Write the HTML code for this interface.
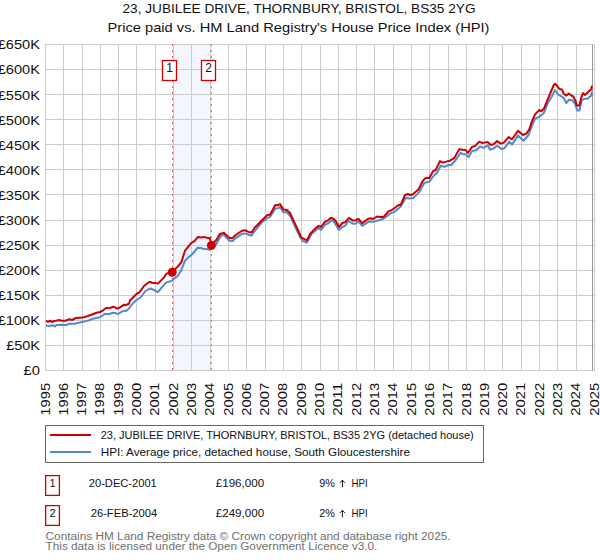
<!DOCTYPE html>
<html><head><meta charset="utf-8"><style>
html,body{margin:0;padding:0;background:#fff;width:600px;height:560px;overflow:hidden}
svg{position:absolute;left:0;top:0;font-family:"Liberation Sans",sans-serif}
</style></head><body>
<svg width="600" height="560" viewBox="0 0 600 560">
<rect x="0" y="0" width="600" height="560" fill="#fff"/>
<text x="122.5" y="13" font-size="13" fill="#111" textLength="353" lengthAdjust="spacingAndGlyphs">23, JUBILEE DRIVE, THORNBURY, BRISTOL, BS35 2YG</text>
<text x="107.5" y="31.7" font-size="13" fill="#111" textLength="382" lengthAdjust="spacingAndGlyphs">Price paid vs. HM Land Registry's House Price Index (HPI)</text>
<rect x="173" y="44.5" width="38" height="326" fill="#f3f7fd"/>
<path d="M45.5,44 V371 M63.5,44 V371 M82.5,44 V371 M100.5,44 V371 M118.5,44 V371 M136.5,44 V371 M155.5,44 V371 M173.5,44 V371 M191.5,44 V371 M210.5,44 V371 M228.5,44 V371 M246.5,44 V371 M265.5,44 V371 M283.5,44 V371 M301.5,44 V371 M320.5,44 V371 M338.5,44 V371 M356.5,44 V371 M374.5,44 V371 M393.5,44 V371 M411.5,44 V371 M429.5,44 V371 M448.5,44 V371 M466.5,44 V371 M484.5,44 V371 M502.5,44 V371 M521.5,44 V371 M539.5,44 V371 M557.5,44 V371 M576.5,44 V371 M594.5,44 V371 M45,44.5 H595 M45,69.5 H595 M45,94.5 H595 M45,119.5 H595 M45,144.5 H595 M45,169.5 H595 M45,194.5 H595 M45,220.5 H595 M45,245.5 H595 M45,270.5 H595 M45,295.5 H595 M45,320.5 H595 M45,345.5 H595 M45,370.5 H595" stroke="#cccccc" stroke-width="1" fill="none"/>
<line x1="592.5" y1="45" x2="592.5" y2="370" stroke="#999" stroke-width="1"/>
<line x1="172.5" y1="44" x2="172.5" y2="370" stroke="#ee5566" stroke-width="1" stroke-dasharray="2,4"/>
<line x1="211.3" y1="44" x2="211.3" y2="370" stroke="#ee5566" stroke-width="1" stroke-dasharray="2,4"/>
<path d="M46.0,325.6 L49.3,326.0 L53.3,325.3 L54.7,326.4 L56.7,324.9 L61.3,324.7 L66.7,324.9 L69.3,323.7 L74.7,323.7 L80.0,322.4 L84.0,321.6 L89.3,320.3 L94.0,318.4 L98.7,317.6 L101.3,316.3 L104.7,314.0 L109.3,314.0 L112.7,312.7 L115.3,313.1 L118.0,314.0 L120.7,312.4 L124.0,310.5 L126.0,311.0 L129.0,308.5 L133.0,303.0 L137.0,299.8 L141.0,297.0 L145.0,291.5 L149.0,289.0 L150.5,288.5 L155.0,290.5 L157.9,292.1 L165.7,282.9 L168.6,281.7 L171.4,281.1 L174.3,278.6 L177.9,275.7 L181.4,270.0 L185.0,260.7 L188.6,257.1 L192.9,253.6 L197.6,247.7 L200.8,248.0 L203.0,248.7 L206.7,249.0 L209.4,249.8 L216.4,243.9 L220.6,236.2 L223.9,234.8 L229.3,240.7 L232.7,241.0 L235.3,238.3 L242.0,233.9 L245.3,233.4 L248.7,234.7 L251.3,235.7 L255.3,230.3 L262.0,222.3 L267.3,217.9 L270.0,217.0 L275.3,208.6 L278.0,208.3 L280.0,207.0 L283.3,212.3 L286.7,212.3 L290.0,215.7 L295.3,227.0 L300.0,237.0 L302.7,241.0 L306.7,242.7 L311.7,233.7 L315.0,231.0 L318.3,228.1 L321.0,229.9 L325.0,224.6 L328.3,223.3 L331.7,220.3 L334.3,222.3 L339.0,229.9 L342.3,227.0 L345.0,225.9 L348.3,221.0 L353.0,223.7 L355.7,223.7 L358.3,221.4 L362.3,225.9 L369.0,221.4 L373.0,221.7 L379.7,220.0 L382.1,219.3 L385.7,217.1 L390.7,213.1 L394.3,212.1 L400.7,206.4 L405.7,197.9 L409.3,198.6 L413.6,197.9 L419.3,192.1 L424.3,182.9 L429.3,181.7 L434.3,175.0 L437.1,172.9 L440.7,165.7 L444.3,166.9 L448.6,165.0 L451.4,165.0 L455.7,160.0 L460.7,152.9 L463.6,154.3 L465.7,154.3 L468.6,157.1 L472.1,151.1 L476.4,150.3 L480.0,146.4 L483.6,147.9 L487.9,145.4 L490.0,149.7 L492.9,148.9 L497.1,145.7 L501.4,148.9 L504.3,148.3 L509.3,141.7 L512.1,144.6 L517.9,135.4 L523.6,140.7 L528.6,135.0 L531.3,127.5 L535.0,118.8 L540.0,116.3 L543.8,113.1 L547.5,103.8 L551.9,96.3 L555.0,90.0 L558.1,94.4 L561.3,96.3 L563.8,98.1 L566.3,103.1 L568.8,99.8 L572.5,100.6 L575.0,103.8 L577.3,110.6 L579.4,110.6 L581.9,100.0 L584.4,98.8 L587.5,98.8 L591.3,95.6 L591.9,91.3" stroke="#5288d0" stroke-width="2" fill="none" stroke-linejoin="round"/>
<path d="M46.0,320.7 L48.0,322.0 L50.0,320.7 L52.0,322.0 L54.0,321.0 L56.0,320.7 L59.3,320.0 L61.3,320.7 L65.3,320.7 L69.3,319.3 L72.0,320.0 L76.0,318.0 L82.7,317.6 L88.0,316.0 L93.3,314.0 L96.7,312.7 L100.0,312.0 L102.7,310.7 L106.0,308.0 L110.7,307.7 L113.3,306.7 L117.3,308.7 L120.0,307.3 L124.0,304.7 L126.0,305.0 L129.0,303.8 L130.0,300.5 L137.0,293.5 L139.0,292.8 L144.0,286.0 L149.5,281.8 L152.0,282.8 L155.0,282.9 L157.9,283.6 L164.3,277.1 L166.4,273.6 L172.1,272.1 L177.9,266.4 L181.4,262.1 L185.0,250.7 L191.4,242.9 L194.3,241.4 L197.9,236.9 L200.7,237.4 L204.3,236.9 L207.1,237.9 L209.9,238.0 L211.3,245.3 L216.4,240.0 L219.6,234.3 L223.9,232.7 L229.3,237.9 L232.7,237.9 L235.3,235.3 L242.0,230.7 L245.3,230.3 L248.0,231.7 L251.3,232.6 L254.7,227.7 L259.3,223.0 L267.3,215.0 L270.0,214.7 L275.3,205.0 L277.3,205.4 L280.0,204.1 L283.3,209.4 L286.7,209.9 L290.0,213.0 L295.3,224.3 L299.3,233.0 L301.3,237.4 L304.0,239.0 L307.0,240.3 L310.3,233.7 L314.3,229.4 L318.3,225.9 L321.0,227.0 L325.0,221.7 L327.7,220.6 L331.0,217.7 L333.7,219.0 L335.7,221.0 L339.0,227.0 L342.3,223.0 L345.0,222.3 L349.0,217.9 L353.0,220.6 L355.7,220.6 L358.3,218.7 L362.3,223.3 L367.7,219.0 L370.3,218.3 L373.0,219.0 L377.0,216.6 L379.7,217.0 L383.6,216.9 L388.6,211.1 L391.4,210.3 L394.3,208.3 L398.6,205.0 L400.7,205.0 L405.0,195.0 L407.9,194.0 L410.0,195.0 L412.9,194.3 L418.6,189.3 L422.9,180.7 L425.7,177.9 L429.3,177.9 L432.9,171.4 L435.7,170.0 L440.0,161.1 L442.9,162.6 L447.1,161.4 L450.0,160.7 L454.3,157.9 L459.3,149.3 L462.9,149.7 L465.7,150.0 L467.9,152.9 L472.1,146.9 L475.0,146.0 L479.3,141.7 L482.1,142.9 L485.0,142.6 L487.9,142.1 L490.7,145.0 L493.6,144.3 L497.1,141.1 L500.7,143.6 L503.6,142.9 L508.6,137.1 L512.1,139.3 L517.9,130.7 L522.9,135.0 L526.4,133.6 L529.3,129.3 L531.9,121.3 L535.0,114.4 L539.4,110.0 L541.3,111.3 L543.8,108.8 L546.9,101.3 L550.6,92.5 L553.8,85.0 L555.0,83.8 L556.9,85.6 L559.4,89.0 L561.9,89.4 L563.8,93.8 L566.3,95.6 L568.8,93.5 L571.3,95.6 L573.1,96.3 L575.6,101.3 L576.9,105.6 L579.4,105.6 L581.3,97.5 L583.1,93.1 L585.0,95.0 L587.5,92.8 L589.4,90.6 L591.3,89.4 L591.9,85.6" stroke="#cc0000" stroke-width="2" fill="none" stroke-linejoin="round"/>
<circle cx="172.2" cy="272.3" r="4.5" fill="#cc0000"/>
<circle cx="211.4" cy="245.4" r="4.5" fill="#cc0000"/>
<rect x="162.5" y="60.5" width="14" height="20" fill="#fff" stroke="#cc0000" stroke-width="1.3"/>
<rect x="201.5" y="60.5" width="14" height="20" fill="#fff" stroke="#cc0000" stroke-width="1.3"/>
<text x="169.5" y="72.2" font-size="12" text-anchor="middle" fill="#111">1</text>
<text x="208.5" y="72.2" font-size="12" text-anchor="middle" fill="#111">2</text>
<g font-size="12" fill="#111">
<text x="-2.32" y="49.4" textLength="42.22" lengthAdjust="spacingAndGlyphs">£650K</text><text x="-2.32" y="74.45" textLength="42.22" lengthAdjust="spacingAndGlyphs">£600K</text><text x="-2.32" y="99.5" textLength="42.22" lengthAdjust="spacingAndGlyphs">£550K</text><text x="-2.32" y="124.55000000000001" textLength="42.22" lengthAdjust="spacingAndGlyphs">£500K</text><text x="-2.32" y="149.6" textLength="42.22" lengthAdjust="spacingAndGlyphs">£450K</text><text x="-2.32" y="174.65" textLength="42.22" lengthAdjust="spacingAndGlyphs">£400K</text><text x="-2.32" y="199.70000000000002" textLength="42.22" lengthAdjust="spacingAndGlyphs">£350K</text><text x="-2.32" y="224.75" textLength="42.22" lengthAdjust="spacingAndGlyphs">£300K</text><text x="-2.32" y="249.8" textLength="42.22" lengthAdjust="spacingAndGlyphs">£250K</text><text x="-2.32" y="274.85" textLength="42.22" lengthAdjust="spacingAndGlyphs">£200K</text><text x="-2.32" y="299.9" textLength="42.22" lengthAdjust="spacingAndGlyphs">£150K</text><text x="-2.32" y="324.95" textLength="42.22" lengthAdjust="spacingAndGlyphs">£100K</text><text x="6.20" y="350.0" textLength="33.70" lengthAdjust="spacingAndGlyphs">£50K</text><text x="23.50" y="375.05" textLength="16.40" lengthAdjust="spacingAndGlyphs">£0</text>
</g>
<g font-size="12" fill="#111">
<text transform="translate(49.50,415.8) rotate(-90)" textLength="33" lengthAdjust="spacingAndGlyphs">1995</text><text transform="translate(67.81,415.8) rotate(-90)" textLength="33" lengthAdjust="spacingAndGlyphs">1996</text><text transform="translate(86.11,415.8) rotate(-90)" textLength="33" lengthAdjust="spacingAndGlyphs">1997</text><text transform="translate(104.42,415.8) rotate(-90)" textLength="33" lengthAdjust="spacingAndGlyphs">1998</text><text transform="translate(122.73,415.8) rotate(-90)" textLength="33" lengthAdjust="spacingAndGlyphs">1999</text><text transform="translate(141.03,415.8) rotate(-90)" textLength="33" lengthAdjust="spacingAndGlyphs">2000</text><text transform="translate(159.34,415.8) rotate(-90)" textLength="33" lengthAdjust="spacingAndGlyphs">2001</text><text transform="translate(177.65,415.8) rotate(-90)" textLength="33" lengthAdjust="spacingAndGlyphs">2002</text><text transform="translate(195.96,415.8) rotate(-90)" textLength="33" lengthAdjust="spacingAndGlyphs">2003</text><text transform="translate(214.26,415.8) rotate(-90)" textLength="33" lengthAdjust="spacingAndGlyphs">2004</text><text transform="translate(232.57,415.8) rotate(-90)" textLength="33" lengthAdjust="spacingAndGlyphs">2005</text><text transform="translate(250.88,415.8) rotate(-90)" textLength="33" lengthAdjust="spacingAndGlyphs">2006</text><text transform="translate(269.18,415.8) rotate(-90)" textLength="33" lengthAdjust="spacingAndGlyphs">2007</text><text transform="translate(287.49,415.8) rotate(-90)" textLength="33" lengthAdjust="spacingAndGlyphs">2008</text><text transform="translate(305.80,415.8) rotate(-90)" textLength="33" lengthAdjust="spacingAndGlyphs">2009</text><text transform="translate(324.10,415.8) rotate(-90)" textLength="33" lengthAdjust="spacingAndGlyphs">2010</text><text transform="translate(342.41,415.8) rotate(-90)" textLength="33" lengthAdjust="spacingAndGlyphs">2011</text><text transform="translate(360.72,415.8) rotate(-90)" textLength="33" lengthAdjust="spacingAndGlyphs">2012</text><text transform="translate(379.03,415.8) rotate(-90)" textLength="33" lengthAdjust="spacingAndGlyphs">2013</text><text transform="translate(397.33,415.8) rotate(-90)" textLength="33" lengthAdjust="spacingAndGlyphs">2014</text><text transform="translate(415.64,415.8) rotate(-90)" textLength="33" lengthAdjust="spacingAndGlyphs">2015</text><text transform="translate(433.95,415.8) rotate(-90)" textLength="33" lengthAdjust="spacingAndGlyphs">2016</text><text transform="translate(452.25,415.8) rotate(-90)" textLength="33" lengthAdjust="spacingAndGlyphs">2017</text><text transform="translate(470.56,415.8) rotate(-90)" textLength="33" lengthAdjust="spacingAndGlyphs">2018</text><text transform="translate(488.87,415.8) rotate(-90)" textLength="33" lengthAdjust="spacingAndGlyphs">2019</text><text transform="translate(507.17,415.8) rotate(-90)" textLength="33" lengthAdjust="spacingAndGlyphs">2020</text><text transform="translate(525.48,415.8) rotate(-90)" textLength="33" lengthAdjust="spacingAndGlyphs">2021</text><text transform="translate(543.79,415.8) rotate(-90)" textLength="33" lengthAdjust="spacingAndGlyphs">2022</text><text transform="translate(562.10,415.8) rotate(-90)" textLength="33" lengthAdjust="spacingAndGlyphs">2023</text><text transform="translate(580.40,415.8) rotate(-90)" textLength="33" lengthAdjust="spacingAndGlyphs">2024</text><text transform="translate(598.71,415.8) rotate(-90)" textLength="33" lengthAdjust="spacingAndGlyphs">2025</text>
</g>
<rect x="45.5" y="425.5" width="438" height="37" fill="#fff" stroke="#666" stroke-width="1"/>
<line x1="50" y1="435" x2="91" y2="435" stroke="#cc0000" stroke-width="2"/>
<line x1="50" y1="452" x2="91" y2="452" stroke="#5288d0" stroke-width="2"/>
<text x="100.7" y="439" font-size="11" fill="#111" textLength="373" lengthAdjust="spacingAndGlyphs">23, JUBILEE DRIVE, THORNBURY, BRISTOL, BS35 2YG (detached house)</text>
<text x="100.7" y="455.7" font-size="11" fill="#111" textLength="309.3" lengthAdjust="spacingAndGlyphs">HPI: Average price, detached house, South Gloucestershire</text>
<rect x="45.6" y="475.6" width="13.8" height="19.8" fill="#fff" stroke="#cc0000" stroke-width="1.3"/>
<rect x="45.6" y="505.6" width="13.8" height="19.8" fill="#fff" stroke="#cc0000" stroke-width="1.3"/>
<text x="52.5" y="487" font-size="11" text-anchor="middle" fill="#111">1</text>
<text x="52.5" y="517.3" font-size="11" text-anchor="middle" fill="#111">2</text>
<text x="88.8" y="487.2" font-size="11" fill="#111" textLength="68" lengthAdjust="spacingAndGlyphs">20-DEC-2001</text>
<text x="90.7" y="517.3" font-size="11" fill="#111" textLength="66.6" lengthAdjust="spacingAndGlyphs">26-FEB-2004</text>
<text x="215.7" y="487.2" font-size="11" fill="#111" textLength="48.6" lengthAdjust="spacingAndGlyphs">£196,000</text>
<text x="215.7" y="517.3" font-size="11" fill="#111" textLength="48.6" lengthAdjust="spacingAndGlyphs">£249,000</text>
<text x="319.3" y="487.2" font-size="11" fill="#111" textLength="15.6" lengthAdjust="spacingAndGlyphs">9%</text>
<text x="319.3" y="517.3" font-size="11" fill="#111" textLength="15.6" lengthAdjust="spacingAndGlyphs">2%</text>
<text x="351.5" y="487.2" font-size="11" fill="#111" textLength="16.2" lengthAdjust="spacingAndGlyphs">HPI</text>
<text x="351.5" y="517.3" font-size="11" fill="#111" textLength="16.2" lengthAdjust="spacingAndGlyphs">HPI</text>
<path d="M342.4,487.3 V480.2 M339.9,482.8 L342.4,480.2 L344.9,482.8 M342.4,517.4 V510.3 M339.9,512.9 L342.4,510.3 L344.9,512.9" stroke="#111" stroke-width="1" fill="none"/>
<text x="45.6" y="540" font-size="10" fill="#707070" textLength="405" lengthAdjust="spacingAndGlyphs">Contains HM Land Registry data © Crown copyright and database right 2025.</text>
<text x="45.6" y="550.2" font-size="10" fill="#707070" textLength="331.8" lengthAdjust="spacingAndGlyphs">This data is licensed under the Open Government Licence v3.0.</text>
</svg>
</body></html>
